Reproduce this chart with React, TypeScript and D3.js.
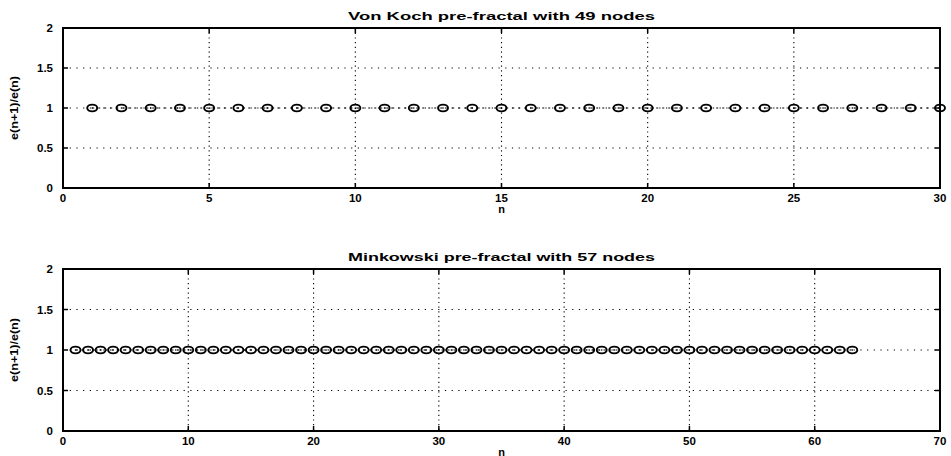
import * as d3 from 'd3';

// values
const kochN = d3.range(1, 31);
const kochRatio = kochN.map(() => 1);
const minkN = d3.range(1, 64);
const minkRatio = minkN.map(() => 1);

const yTicks = [0, 0.5, 1, 1.5, 2];
const kochXTicks = [0, 5, 10, 15, 20, 25, 30];
const minkXTicks = [0, 10, 20, 30, 40, 50, 60, 70];

const W = 951;
const H = 456;
const font = '"Liberation Sans", Arial, Helvetica, sans-serif';

interface PanelProps {
    top: number;
    bottom: number;
    xMax: number;
    xTicks: number[];
    n: number[];
    values: number[];
    title: string;
}

const left = 63;
const right = 940;

const Panel = ({ top, bottom, xMax, xTicks, n, values, title }: PanelProps) => {
    const x = d3.scaleLinear().domain([0, xMax]).range([left, right]);
    const y = d3.scaleLinear().domain([0, 2]).range([bottom, top]);
    const pts = n.map((d, i) => [x(d), y(values[i])] as [number, number]);
    const line = d3.line()(pts) ?? '';
    const tk = 5;
    return (
        <g fontFamily={font} fontWeight="bold">
            {/* grid */}
            {yTicks.slice(1, -1).map(t => (
                <line key={'gy' + t} x1={left} x2={right} y1={y(t)} y2={y(t)}
                    stroke="#000" strokeWidth={1.1} strokeDasharray="1.2,5.5" />
            ))}
            {xTicks.slice(1, -1).map(t => (
                <line key={'gx' + t} x1={x(t)} x2={x(t)} y1={top} y2={bottom}
                    stroke="#000" strokeWidth={1.1} strokeDasharray="1.2,3.5" />
            ))}
            {/* ticks */}
            {yTicks.map(t => (
                <g key={'ty' + t}>
                    <line x1={left} x2={left + tk} y1={y(t)} y2={y(t)} stroke="#000" strokeWidth={1.5} />
                    <line x1={right} x2={right - tk} y1={y(t)} y2={y(t)} stroke="#000" strokeWidth={1.5} />
                    <text x={left - 10} y={y(t) + 4} textAnchor="end" fontSize={11.5}>{t}</text>
                </g>
            ))}
            {xTicks.map(t => (
                <g key={'tx' + t}>
                    <line x1={x(t)} x2={x(t)} y1={bottom} y2={bottom - tk} stroke="#000" strokeWidth={1.5} />
                    <line x1={x(t)} x2={x(t)} y1={top} y2={top + tk} stroke="#000" strokeWidth={1.5} />
                    <text x={x(t)} y={bottom + 14} textAnchor="middle" fontSize={11.5}>{t}</text>
                </g>
            ))}
            {/* data */}
            <path d={line} fill="none" stroke="#000" strokeWidth={1.2} strokeDasharray="2,4" />
            {pts.map(([px, py], i) => (
                <g key={'p' + i}>
                    <ellipse cx={px} cy={py} rx={5} ry={3.4} fill="none" stroke="#000" strokeWidth={1.9} />
                    <circle cx={px} cy={py} r={0.8} fill="#000" />
                </g>
            ))}
            {/* frame */}
            <rect x={left} y={top} width={right - left} height={bottom - top}
                fill="none" stroke="#000" strokeWidth={2} />
            <text x={(left + right) / 2} y={top - 8} textAnchor="middle" fontSize={10}
                textLength={307} lengthAdjust="spacingAndGlyphs">{title}</text>
            <text x={(left + right) / 2} y={bottom + 24.5} textAnchor="middle" fontSize={11}>n</text>
            <text transform={`translate(18,${(top + bottom) / 2}) rotate(-90)`} textAnchor="middle"
                fontSize={10.5} textLength={64} lengthAdjust="spacingAndGlyphs">e(n+1)/e(n)</text>
        </g>
    );
};

export default function App() {
    return (
        <svg width={W} height={H} style={{ position: 'absolute', left: 0, top: 0, background: '#fff' }}>
            <rect width={W} height={H} fill="#fff" />
            <Panel top={28} bottom={188} xMax={30} xTicks={kochXTicks} n={kochN} values={kochRatio}
                title="Von Koch pre-fractal with 49 nodes" />
            <Panel top={269} bottom={431} xMax={70} xTicks={minkXTicks} n={minkN} values={minkRatio}
                title="Minkowski pre-fractal with 57 nodes" />
        </svg>
    );
}
